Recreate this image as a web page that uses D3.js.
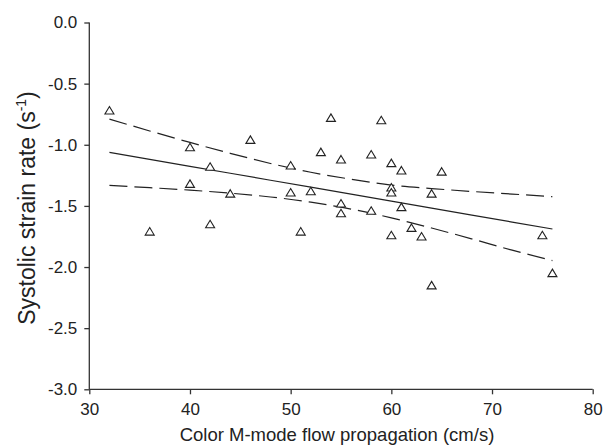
<!DOCTYPE html>
<html>
<head>
<meta charset="utf-8">
<script src="https://cdn.jsdelivr.net/npm/d3@7"></script>
<style>
  body { margin: 0; background: #fff; }
  svg { display: block; }
  text { font-family: "Liberation Sans", Arial, sans-serif; fill: #222; }
</style>
</head>
<body>
<svg width="604" height="447"></svg>
<script>
// measured points (flow propagation cm/s, systolic strain rate 1/s)
var flowVals = [32, 36, 40, 40, 42, 42, 44, 46, 50, 50, 51, 52, 53, 54, 55, 55, 55,
  58, 58, 59, 60, 60, 60, 60, 61, 61, 62, 63, 64, 64, 65, 75, 76];
var strainVals = [-0.72, -1.71, -1.02, -1.32, -1.18, -1.65, -1.40, -0.96, -1.17, -1.39, -1.71, -1.38, -1.06, -0.78, -1.12, -1.48, -1.56,
  -1.08, -1.54, -0.80, -1.15, -1.35, -1.39, -1.74, -1.21, -1.51, -1.68, -1.75, -1.40, -2.15, -1.22, -1.74, -2.05];

// regression line and 95% band
var bandX =     [32, 36, 40, 44, 48, 52, 56, 60, 64, 68, 72, 76];
var fitY =      [-1.062, -1.119, -1.176, -1.233, -1.290, -1.347, -1.404, -1.461, -1.518, -1.575, -1.632, -1.689];
var upperY =    [-0.79, -0.887, -0.981, -1.07, -1.153, -1.225, -1.282, -1.330, -1.358, -1.382, -1.403, -1.425];
var lowerY =    [-1.332, -1.351, -1.371, -1.396, -1.427, -1.469, -1.526, -1.598, -1.681, -1.77, -1.862, -1.947];

var xTicks = [30, 40, 50, 60, 70, 80];
var yTicks = [0, -0.5, -1.0, -1.5, -2.0, -2.5, -3.0];

var svg = d3.select("svg");

var x = d3.scaleLinear().domain([30, 80]).range([89.3, 592.7]),
    y = d3.scaleLinear().domain([0, -3]).range([22.5, 389.3]);

// plain hyphen minus, like the original figure
var f1 = d3.format(".1f");
function yFmt(d) { return f1(d).replace("\u2212", "-"); }

// axes
var xAxis = svg.append("g")
    .attr("transform", "translate(0," + y(-3) + ")")
    .call(d3.axisBottom(x).tickValues(xTicks).tickSize(5).tickPadding(9).tickFormat(d3.format("d")));
var yAxis = svg.append("g")
    .attr("transform", "translate(" + x(30) + ",0)")
    .call(d3.axisLeft(y).tickValues(yTicks).tickSize(5).tickPadding(7).tickFormat(yFmt));

[xAxis, yAxis].forEach(function(a) {
  a.select(".domain").attr("stroke", "#333").attr("stroke-width", 1.3);
  a.selectAll(".tick line").attr("stroke", "#333").attr("stroke-width", 1.3);
  a.selectAll(".tick text").style("font-size", "17px").attr("fill", "#222")
    .style("font-family", "'Liberation Sans', Arial, sans-serif");
});
// remove outer tick stubs so the domain is a plain line
xAxis.select(".domain").attr("d", "M" + x(30) + ",0H" + x(80));
yAxis.select(".domain").attr("d", "M0," + y(0) + "V" + y(-3));

// lines
var line = d3.line()
    .x(function(d) { return x(d[0]); })
    .y(function(d) { return y(d[1]); });

function pairs(ys) { return bandX.map(function(v, i) { return [v, ys[i]]; }); }

var curved = d3.line()
    .curve(d3.curveMonotoneX)
    .x(function(d) { return x(d[0]); })
    .y(function(d) { return y(d[1]); });

svg.append("path").attr("d", line(pairs(fitY)))
    .attr("fill", "none").attr("stroke", "#222").attr("stroke-width", 1.2);
[upperY, lowerY].forEach(function(ys) {
  svg.append("path").attr("d", curved(pairs(ys)))
      .attr("fill", "none").attr("stroke", "#222").attr("stroke-width", 1.2)
      .attr("stroke-dasharray", "18,7");
});

// open triangles
var tri = "M0,-4L4.5,3.5L-4.5,3.5Z";
svg.append("g").selectAll("path")
  .data(flowVals.map(function(v, i) { return [v, strainVals[i]]; }))
  .enter().append("path")
    .attr("d", tri)
    .attr("transform", function(d) { return "translate(" + x(d[0]) + "," + y(d[1]) + ")"; })
    .attr("fill", "#fff").attr("stroke", "#222").attr("stroke-width", 1.1);

// axis titles
svg.append("text")
    .attr("x", (x(30) + x(80)) / 2 - 4)
    .attr("y", 441)
    .attr("text-anchor", "middle")
    .style("font-size", "18.5px")
    .text("Color M-mode flow propagation (cm/s)");

var yt = svg.append("text")
    .attr("transform", "translate(35,208) rotate(-90)")
    .attr("text-anchor", "middle")
    .style("font-size", "23px");
yt.append("tspan").text("Systolic strain rate (s");
yt.append("tspan").attr("dy", -9).style("font-size", "14px").text("-1");
yt.append("tspan").attr("dy", 9).text(")");
</script>
</body>
</html>
